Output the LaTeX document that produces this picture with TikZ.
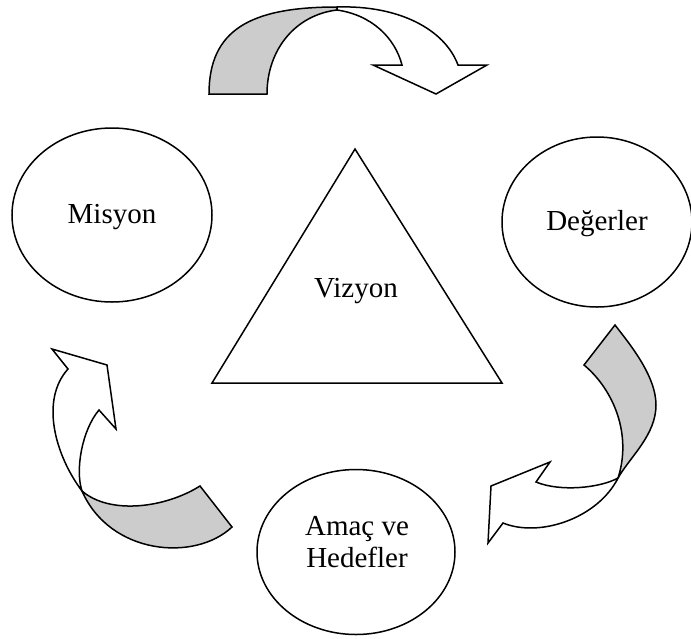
\documentclass[tikz,border=0pt]{standalone}
\usepackage{fontspec}
\setmainfont{Liberation Serif}
\usetikzlibrary{shapes.geometric}
\definecolor{bandgray}{RGB}{204,204,204}
\begin{document}
\begin{tikzpicture}[x=1pt,y=-1pt,line join=miter,
  outline/.style={draw=black,line width=1.5pt},
  circ/.style={outline,ellipse,inner sep=0pt},
  lbl/.style={font=\fontsize{29}{32}\selectfont,inner sep=0pt,anchor=base},
  backband/.style={outline,fill=bandgray},
  frontband/.style={outline,fill=white}]
\useasboundingbox (0,0) rectangle (691,638);

% central triangle
\coordinate (tA) at (355,149);
\coordinate (tL) at (212,383);
\coordinate (tR) at (502,383);
\draw[outline] (tA) -- (tL) -- (tR) -- cycle;
\node[lbl] (vizyon) at (356,297) {Vizyon};

% surrounding ellipses
\node[circ,minimum width=200pt,minimum height=174pt] (misyon) at (112,215) {};
\node[lbl] (misyonT) at (112,223) {Misyon};
\node[circ,minimum width=190pt,minimum height=170pt] (degerler) at (597,222) {};
\node[lbl] (degerlerT) at (597,230) {Değerler};
\node[circ,minimum width=198pt,minimum height=165pt] (amac) at (356,552) {};
\node[lbl] (amacT) at (357,535) {Amaç ve};
\node[lbl] (hedefT) at (357,567) {Hedefler};

% top curved arrow: back of the band, then the front with its head
\coordinate (p1) at (337,7);
\coordinate (p2) at (337,10);
\draw[backband] (209,94) .. controls (209,30) and (250,7) .. (p1) -- (p2)
  .. controls (295,15) and (267,50) .. (267,94) -- cycle;
\draw[frontband] (p1) .. controls (400,5) and (445,30) .. (458,65)
  -- (487,65) -- (436,94) -- (373,65) -- (402,65)
  .. controls (395,38) and (372,15) .. (p2) -- cycle;

% right curved arrow
\coordinate (q) at (618,478);
\draw[backband] (615,325) -- (584,365)
  .. controls (614,390) and (632,435) .. (q)
  .. controls (630,457) and (656,435) .. (656,405)
  .. controls (656,375) and (628,342) .. cycle;
\draw[frontband] (q) .. controls (600,488) and (560,492) .. (536,482)
  -- (550,462) -- (491,486) -- (488,543) -- (503,523)
  .. controls (540,538) and (598,518) .. cycle;

% left curved arrow
\coordinate (k) at (82,491);
\draw[backband] (200,486) -- (232,527)
  .. controls (195,562) and (110,555) .. (k)
  .. controls (110,515) and (165,508) .. cycle;
\draw[frontband] (k) .. controls (55,455) and (40,400) .. (68,369)
  -- (52,349) -- (107,365) -- (116,429) -- (99,410)
  .. controls (82,430) and (75,470) .. cycle;
\end{tikzpicture}
\end{document}
